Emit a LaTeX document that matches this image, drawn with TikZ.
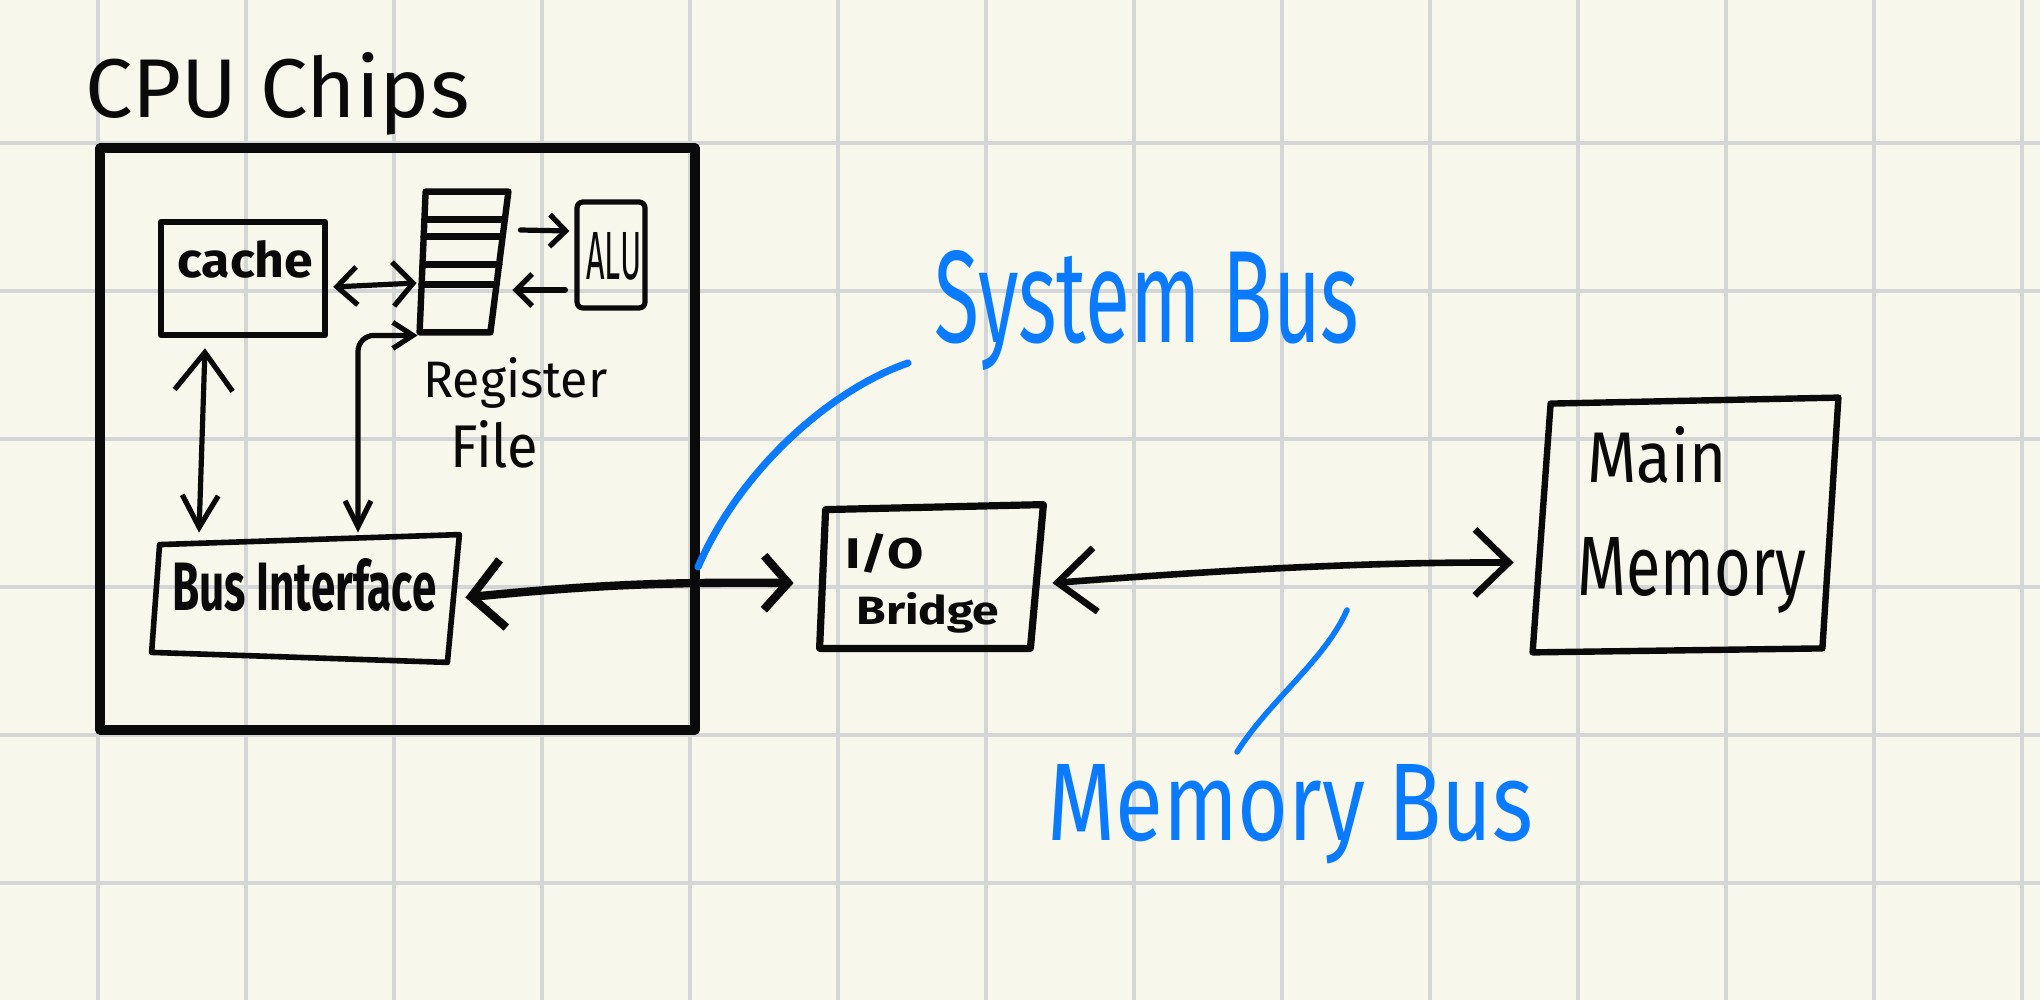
\documentclass[tikz,border=0pt]{standalone}
\usepackage{fontspec}
\setmainfont{Fira Sans}
\usepackage{graphicx}
\usetikzlibrary{arrows.meta,calc,fit}
\definecolor{paper}{HTML}{F8F7EC}
\definecolor{gridc}{HTML}{D4D5D7}
\definecolor{inkblue}{HTML}{0A7BFF}
\definecolor{ink}{HTML}{0A0A0A}
\newcommand{\fitto}[3]{\resizebox{#1}{#2}{#3}}
\begin{document}
\begin{tikzpicture}[x=0.5pt,y=-0.5pt,
  box/.style={inner sep=0pt, draw=none},
  drawnbox/.style={inner sep=0pt, draw=ink, line width=3.2pt, line join=round},
  outline/.style={draw=ink, line width=3.2pt, line join=round, line cap=round},
  txt/.style={inner sep=0pt, anchor=base west, text=ink, font=\bfseries},
  bluetxt/.style={inner sep=0pt, anchor=base west, text=inkblue, font=\bfseries},
  conn/.style={draw=ink, line width=2.6pt, line cap=round, line join=round},
  ptr/.style={draw=inkblue, line width=3.2pt, line cap=round}]
\useasboundingbox (0,0) rectangle (2040,1000);
\fill[paper] (0,0) rectangle (2040,1000);
\foreach \x in {98,246,...,2022} \draw[gridc, line width=2pt] (\x,0) -- (\x,1000);
\foreach \y in {143,291,...,883} \draw[gridc, line width=2pt] (0,\y) -- (2040,\y);

% ---------- title ----------
\node[txt, font=\mdseries] (title) at (85,118) {\fitto{192pt}{32.5pt}{CPU Chips}};

% ---------- CPU chip box ----------
\node[drawnbox, line width=4.6pt, fit={(100,148) (695,730)}] (cpu) {};

% cache
\node[drawnbox, fit={(161,222) (325,335)}] (cache) {};
\node[txt] (cachetxt) at (177,278) {\fitto{68pt}{18.5pt}{cache}};

% register file
\node[box, fit={(423,192) (508,332)}] (reg) {};
\draw[outline] ($(reg.north west)+(3,0)$) -- (reg.north east) -- ($(reg.south east)+(-18,0)$) -- ($(reg.south west)+(-3,0)$) -- cycle;
\draw[outline] ($(reg.north west)+(2,28)$) -- ($(reg.north east)+(-4,28)$);
\draw[outline] ($(reg.north west)+(1,45)$) -- ($(reg.north east)+(-6,45)$);
\draw[outline] ($(reg.north west)+(0,73)$) -- ($(reg.north east)+(-9,73)$);
\draw[outline] ($(reg.north west)+(-1,93)$) -- ($(reg.north east)+(-12,93)$);
\node[txt, font=\mdseries] (regtxt1) at (423,397) {\fitto{92pt}{20pt}{Register}};
\node[txt, font=\mdseries] (regtxt2) at (450,467) {\fitto{44pt}{23.5pt}{File}};

% ALU
\node[drawnbox, line width=2.6pt, rounded corners=3pt, fit={(577,202) (645,308)}] (alu) {};
\node[txt, font=\mdseries] (alutxt) at (586,280) {\fitto{27.5pt}{23.5pt}{ALU}};

% bus interface
\node[box, fit={(156,535) (459,660)}] (bus) {};
\draw[outline, line width=2.8pt] ($(bus.north west)+(4,10)$) -- (bus.north east) -- ($(bus.south east)+(-12,2)$) -- ($(bus.south west)+(-4,-8)$) -- cycle;
\node[txt] (bustxt) at (172,610) {\fitto{132pt}{26pt}{Bus Interface}};

% ---------- I/O bridge ----------
\node[box, fit={(822,505) (1046,648)}] (bridge) {};
\draw[outline, line width=3.6pt] ($(bridge.north west)+(4,5)$) -- ($(bridge.north east)+(-3,0)$) -- ($(bridge.south east)+(-16,0)$) -- ($(bridge.south west)+(-2,0)$) -- cycle;
\node[txt] (brtxt1) at (845,568) {\fitto{39pt}{17.5pt}{I/O}};
\node[txt] (brtxt2) at (856,624) {\fitto{71.5pt}{16pt}{Bridge}};

% ---------- main memory ----------
\node[box, fit={(1537,396) (1842,649)}] (mem) {};
\draw[outline] ($(mem.north west)+(14,8)$) -- ($(mem.north east)+(-4,2)$) -- ($(mem.south east)+(-20,-1)$) -- ($(mem.south west)+(-4,3)$) -- cycle;
\node[txt, font=\mdseries] (memtxt1) at (1587,482) {\fitto{69.5pt}{28pt}{Main}};
\node[txt, font=\mdseries] (memtxt2) at (1577,595) {\fitto{114.5pt}{29pt}{Memory}};

% ---------- connectors ----------
\draw[conn, -{Straight Barb[length=8pt,width=16pt]}] ($(reg.east)+(12,-32)$) -- ($(alu.west)+(-5,-24)$);
\draw[conn, -{Straight Barb[length=8pt,width=16pt]}] ($(alu.west)+(-9,35)$) -- ($(reg.east)+(4,28)$);
\draw[conn, {Straight Barb[length=10pt,width=19pt]}-{Straight Barb[length=10pt,width=22pt]}] ($(cache.east)+(5,8.5)$) -- ($(reg.west)+(-6,21)$);
\draw[conn, {Straight Barb[length=19pt,width=29pt]}-{Straight Barb[length=16pt,width=18pt]}] ($(cache.south)+(-38,10)$) -- ($(bus.north)+(-108.5,-2)$);
\draw[conn, rounded corners=8pt, {Straight Barb[length=13pt,width=13pt]}-{Straight Barb[length=10pt,width=13pt]}] ($(bus.north)+(50.5,-2)$) |- ($(reg.south west)+(-5,3)$);
\draw[conn, line width=4.2pt, {Straight Barb[length=16pt,width=34pt]}-{Straight Barb[length=12pt,width=27pt]}] ($(bus.east)+(6,0)$) .. controls (600,584) and (680,582) .. ($(bridge.west)+(-28,6.5)$);
\draw[conn, line width=3.3pt, {Straight Barb[length=19pt,width=32pt]}-{Straight Barb[length=17pt,width=33pt]}] ($(bridge.east)+(6,6.5)$) .. controls (1200,572) and (1350,562) .. ($(mem.west)+(-23,40)$);

% ---------- blue labels ----------
\node[bluetxt, font=\mdseries] (sysbus) at (934,343) {\fitto{212.5pt}{46pt}{System Bus}};
\node[bluetxt, font=\mdseries] (membus) at (1047,840) {\fitto{243pt}{38pt}{Memory Bus}};
\coordinate (sysend) at (698,567);
\coordinate (memend) at (1347,610);
\draw[ptr, line width=3.6pt] ($(sysbus.base west)+(-26,20)$) .. controls (830,390) and (740,470) .. (sysend);
\draw[ptr, line width=2.8pt] (memend) .. controls (1325,660) and (1270,700) .. ($(membus.base west)+(190,-88)$);
\end{tikzpicture}
\end{document}
